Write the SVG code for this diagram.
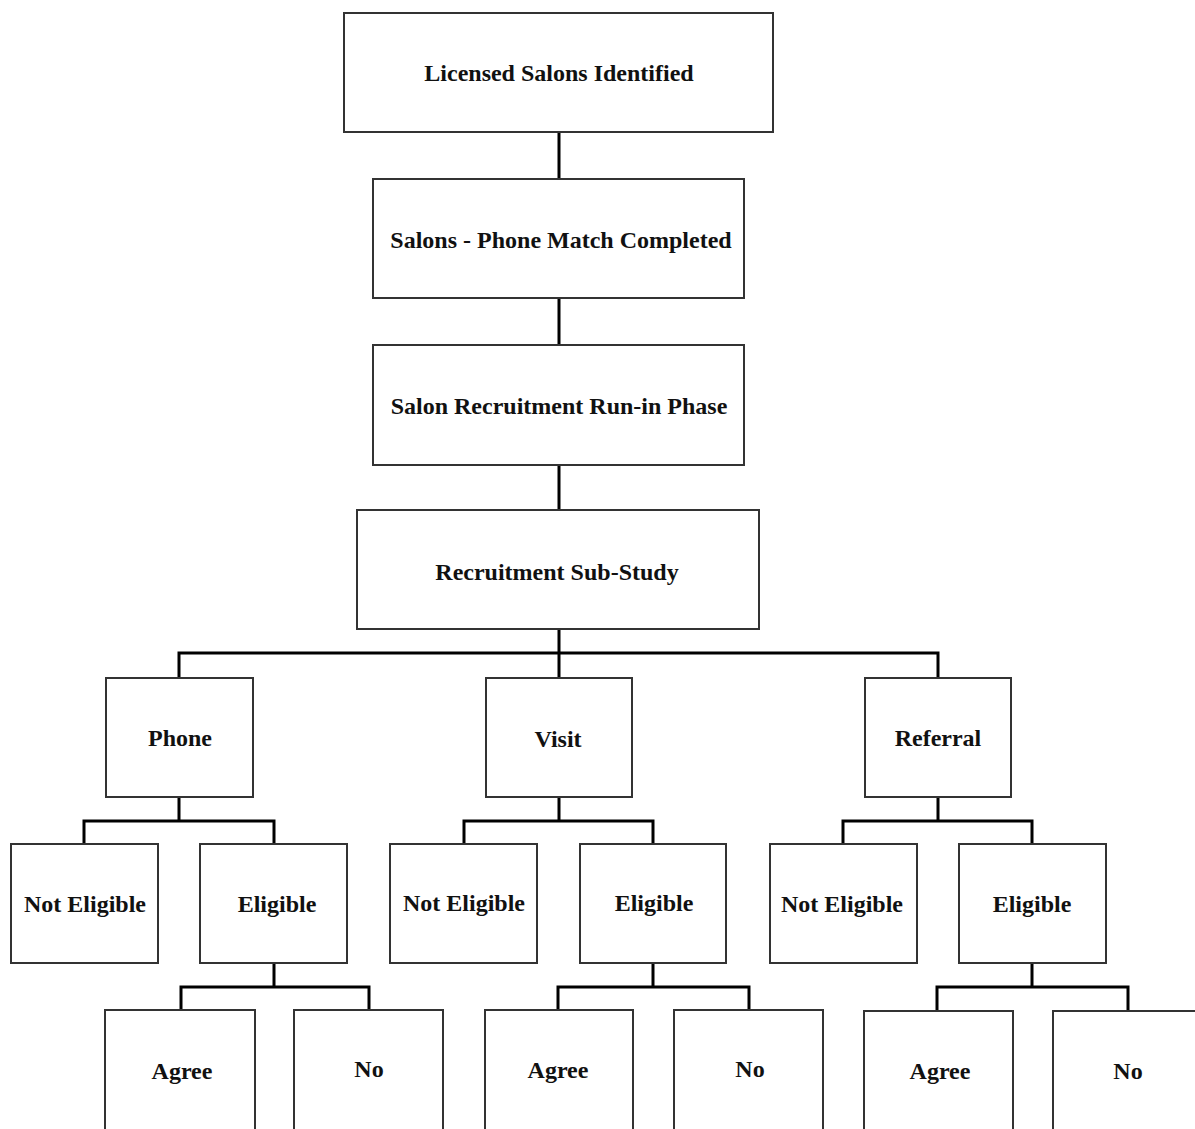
<svg xmlns="http://www.w3.org/2000/svg" width="1195" height="1129" viewBox="0 0 1195 1129">
<style>
.box{fill:#fff;stroke:#333;stroke-width:2}
.lbl{font-family:"Liberation Serif","Times New Roman",serif;font-weight:bold;font-size:24px;fill:#111;text-anchor:middle;dominant-baseline:central}
.con{fill:none;stroke:#000;stroke-width:3}
</style>
<rect width="1195" height="1129" fill="#fff"/>
<g id="connectors">
<path class="con" d="M559 132V178M559 298V345M559 465V510"/>
<path class="con" d="M559 629V653M179 678V653H938V678M559 653V678"/>
<path class="con" d="M179 797V821M84 844V821H274V844"/>
<path class="con" d="M559 797V821M464 844V821H653V844"/>
<path class="con" d="M938 797V821M843 844V821H1032V844"/>
<path class="con" d="M274 963V987M181 1010V987H369V1010"/>
<path class="con" d="M653 963V987M558 1010V987H749V1010"/>
<path class="con" d="M1032 963V987M937 1010V987H1128V1010"/>
</g>
<g id="n1"><rect class="box" x="344" y="13" width="429" height="119"/><text class="lbl" x="559" y="73">Licensed Salons Identified</text></g>
<g id="n2"><rect class="box" x="373" y="179" width="371" height="119"/><text class="lbl" x="561" y="240">Salons - Phone Match Completed</text></g>
<g id="n3"><rect class="box" x="373" y="345" width="371" height="120"/><text class="lbl" x="559" y="406">Salon Recruitment Run-in Phase</text></g>
<g id="n4"><rect class="box" x="357" y="510" width="402" height="119"/><text class="lbl" x="557" y="572">Recruitment Sub-Study</text></g>
<g id="phone"><rect class="box" x="106" y="678" width="147" height="119"/><text class="lbl" x="180" y="738">Phone</text></g>
<g id="visit"><rect class="box" x="486" y="678" width="146" height="119"/><text class="lbl" x="558" y="739">Visit</text></g>
<g id="referral"><rect class="box" x="865" y="678" width="146" height="119"/><text class="lbl" x="938" y="738">Referral</text></g>
<g id="phone-ne"><rect class="box" x="11" y="844" width="147" height="119"/><text class="lbl" x="85" y="904">Not Eligible</text></g>
<g id="phone-el"><rect class="box" x="200" y="844" width="147" height="119"/><text class="lbl" x="277" y="904">Eligible</text></g>
<g id="visit-ne"><rect class="box" x="390" y="844" width="147" height="119"/><text class="lbl" x="464" y="903">Not Eligible</text></g>
<g id="visit-el"><rect class="box" x="580" y="844" width="146" height="119"/><text class="lbl" x="654" y="903">Eligible</text></g>
<g id="ref-ne"><rect class="box" x="770" y="844" width="147" height="119"/><text class="lbl" x="842" y="904">Not Eligible</text></g>
<g id="ref-el"><rect class="box" x="959" y="844" width="147" height="119"/><text class="lbl" x="1032" y="904">Eligible</text></g>
<g id="phone-agree"><rect class="box" x="105" y="1010" width="150" height="140"/><text class="lbl" x="182" y="1071">Agree</text></g>
<g id="phone-no"><rect class="box" x="294" y="1010" width="149" height="140"/><text class="lbl" x="369" y="1069">No</text></g>
<g id="visit-agree"><rect class="box" x="485" y="1010" width="148" height="140"/><text class="lbl" x="558" y="1070">Agree</text></g>
<g id="visit-no"><rect class="box" x="674" y="1010" width="149" height="140"/><text class="lbl" x="750" y="1069">No</text></g>
<g id="ref-agree"><rect class="box" x="864" y="1011" width="149" height="140"/><text class="lbl" x="940" y="1071">Agree</text></g>
<g id="ref-no"><rect class="box" x="1053" y="1011" width="149" height="140"/><text class="lbl" x="1128" y="1071">No</text></g>
</svg>
